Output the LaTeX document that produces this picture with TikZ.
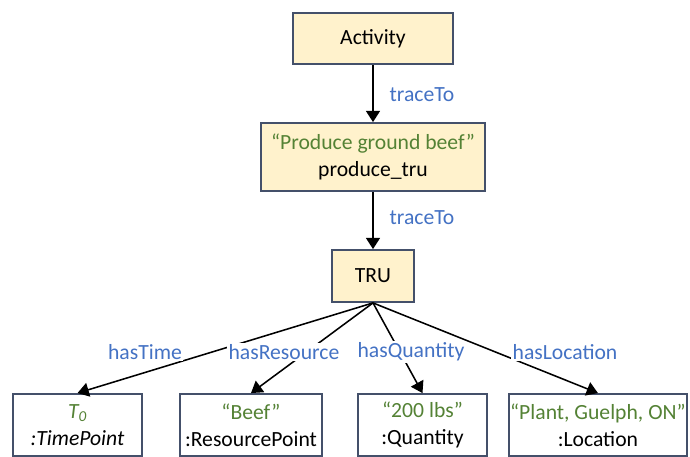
\documentclass[tikz,border=0pt]{standalone}
\usepackage{fontspec}
\setmainfont{Carlito}
\usetikzlibrary{positioning,arrows.meta}
\definecolor{boxfill}{HTML}{FFF2CC}
\definecolor{boxline}{HTML}{44506A}
\definecolor{relblue}{HTML}{4472C4}
\definecolor{litgreen}{HTML}{548235}

\begin{document}
\begin{tikzpicture}[font=\fontsize{15.4}{19}\selectfont,
  cls/.style={draw=boxline,fill=boxfill,line width=1.3pt,align=center},
  ind/.style={draw=boxline,fill=white,line width=1.3pt,minimum height=1.55cm,align=center,inner xsep=2pt},
  rel/.style={text=relblue,fill=white,inner sep=1pt},
  lit/.style={text=litgreen},
  arr/.style={-{Triangle[width=10pt,length=8pt]},line width=1.1pt,black}]
  \useasboundingbox (0,0) rectangle (17.25,11.425);

  \node[cls,minimum width=4cm,minimum height=1.275cm] (act) at (9.325,10.46) {Activity};
  \node[cls,minimum width=5.6cm,minimum height=1.7cm] (prod) at (9.325,7.5) {\textcolor{litgreen}{“Produce ground beef”}\\produce\_tru};
  \node[cls,minimum width=2.05cm,minimum height=1.3cm] (tru) at (9.325,4.525) {TRU};

  \node[ind,minimum width=3.225cm] (tp) at (1.9375,0.8) {\textcolor{litgreen}{\textit{T\textsubscript{0}}}\\\textit{:TimePoint}};
  \node[ind,minimum width=3.55cm] (res) at (6.275,0.8) {\textcolor{litgreen}{“Beef”}\\:ResourcePoint};
  \node[ind,minimum width=3.225cm] (qty) at (10.5625,0.8) {\textcolor{litgreen}{“200 lbs”}\\:Quantity};
  \node[ind,anchor=east,inner xsep=1pt] (loc) at (17.2,0.8) {\textcolor{litgreen}{“Plant, Guelph, ON”}\\:Location};

  \draw[arr] (act) -- (prod);
  \draw[arr] (prod) -- (tru);
  \draw[arr] (tru.south) -- (tp.north);
  \draw[arr] (tru.south) -- (res.north);
  \draw[arr] (tru.south) -- (qty.north);
  \draw[arr] (tru.south) -- (loc.north);

  \node[rel] (t1) at (10.55,9.05) {traceTo};
  \node[rel] (t2) at (10.55,5.975) {traceTo};
  \node[rel] (htime) at (3.625,2.625) {hasTime};
  \node[rel] (hres) at (7.1,2.625) {hasResource};
  \node[rel] (hqty) at (10.275,2.625) {hasQuantity};
  \node[rel] (hloc) at (14.125,2.625) {hasLocation};
\end{tikzpicture}
\end{document}
